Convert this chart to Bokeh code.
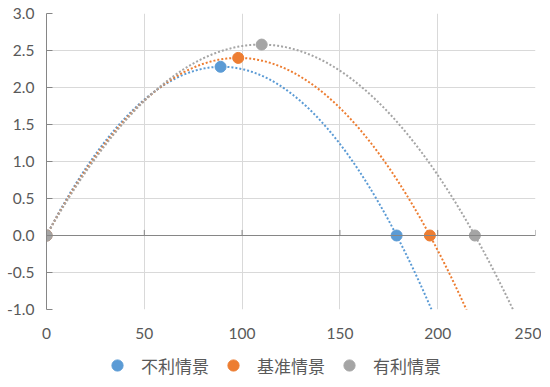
import numpy as np
from bokeh.plotting import figure
from bokeh.layouts import column
from bokeh.models import FixedTicker, Span, Legend, LegendItem, CustomJSTickFormatter
from bokeh.embed import file_html
from bokeh.resources import INLINE

# ---- data ----
series_names = ["不利情景", "基准情景", "有利情景"]
series_colors = ["#5B9BD5", "#ED7D31", "#A5A5A5"]
x_bad = [0, 89, 179]
y_bad = [0, 2.28, 0]
x_base = [0, 98, 196]
y_base = [0, 2.40, 0]
x_good = [0, 110, 219]
y_good = [0, 2.58, 0]
x_ticks = [0, 50, 100, 150, 200, 250]
y_ticks = [-1.0, -0.5, 0.0, 0.5, 1.0, 1.5, 2.0, 2.5, 3.0]

FONT = "Lato"
LABEL_COLOR = "#595959"
AXIS_COLOR = "#868686"
GRID_COLOR = "#D9D9D9"

p = figure(frame_width=489, frame_height=296, x_range=(0, 250), y_range=(-1, 3),
           output_backend="svg", toolbar_location=None,
           min_border_left=46, min_border_right=6, min_border_top=13, min_border_bottom=32)
p.outline_line_color = None
p.background_fill_color = "white"
p.border_fill_color = "white"

# axes
p.xaxis.ticker = FixedTicker(ticks=x_ticks)
p.yaxis.ticker = FixedTicker(ticks=y_ticks)
p.xaxis.axis_line_color = None
p.xaxis.major_tick_line_color = None
p.xaxis.minor_tick_line_color = None
p.xaxis.major_label_standoff = 12
p.yaxis.axis_line_color = AXIS_COLOR
p.yaxis.major_tick_line_color = AXIS_COLOR
p.yaxis.major_tick_in = 6
p.yaxis.major_tick_out = 0
p.yaxis.minor_tick_line_color = None
p.yaxis.major_label_standoff = 12
p.yaxis.formatter = CustomJSTickFormatter(code="return tick.toFixed(1);")
for ax in (p.xaxis, p.yaxis):
    ax.major_label_text_font = FONT
    ax.major_label_text_font_size = "15.5px"
    ax.major_label_text_color = LABEL_COLOR

p.xgrid.grid_line_color = GRID_COLOR
p.ygrid.grid_line_color = GRID_COLOR
p.xgrid.ticker = FixedTicker(ticks=x_ticks)
p.ygrid.ticker = FixedTicker(ticks=y_ticks)

# horizontal axis line at y=0 with upward tick marks
p.add_layout(Span(location=0, dimension="width", line_color=AXIS_COLOR, line_width=1))
tick_len = 0.075
xt = [t for t in x_ticks if t > 0]
p.segment(x0=xt, y0=[0] * len(xt), x1=xt, y1=[tick_len] * len(xt),
          line_color=AXIS_COLOR, line_width=1)

# trendlines (2nd order polynomial fits, like Excel)
xs_fit = np.linspace(0, 250, 400)
all_x = [x_bad, x_base, x_good]
all_y = [y_bad, y_base, y_good]
for xv, yv, c in zip(all_x, all_y, series_colors):
    coef = np.polyfit(xv, yv, 2)
    p.line(xs_fit, np.polyval(coef, xs_fit), line_color=c, line_width=2,
           line_dash="2 2")

# points
for xv, yv, c in zip(all_x, all_y, series_colors):
    p.scatter(xv, yv, size=11, fill_color=c, line_color=c, marker="circle")

# ---- legend strip (separate figure, glyph proxies hidden) ----
lg = figure(width=541, height=44, x_range=(0, 1), y_range=(0, 1),
            x_axis_location=None, y_axis_location=None,
            output_backend="svg", toolbar_location=None,
            min_border=0, min_border_left=0, min_border_right=0,
            min_border_top=0, min_border_bottom=0)
lg.grid.visible = False
lg.outline_line_color = None
lg.border_fill_color = "white"
proxies = []
for xv, yv, c in zip(all_x, all_y, series_colors):
    r = lg.scatter(xv, yv, size=11, fill_color=c, line_color=c, marker="circle",
                   visible=False)
    proxies.append(r)

legend = Legend(items=[LegendItem(label=n, renderers=[r]) for n, r in zip(series_names, proxies)],
                orientation="horizontal", location=(57, 6))
legend.glyph_width = 28
legend.glyph_height = 28
legend.label_standoff = 10
legend.spacing = 10
legend.padding = 0
legend.margin = 0
legend.border_line_color = None
legend.background_fill_alpha = 0
legend.inactive_fill_alpha = 0
legend.label_text_font = "Noto Sans CJK SC"
legend.label_text_font_size = "17px"
legend.label_text_color = LABEL_COLOR
legend.label_text_baseline = "middle"
lg.add_layout(legend, "center")

layout = column(p, lg, spacing=0)
open("out.html", "w").write(file_html(layout, INLINE))
